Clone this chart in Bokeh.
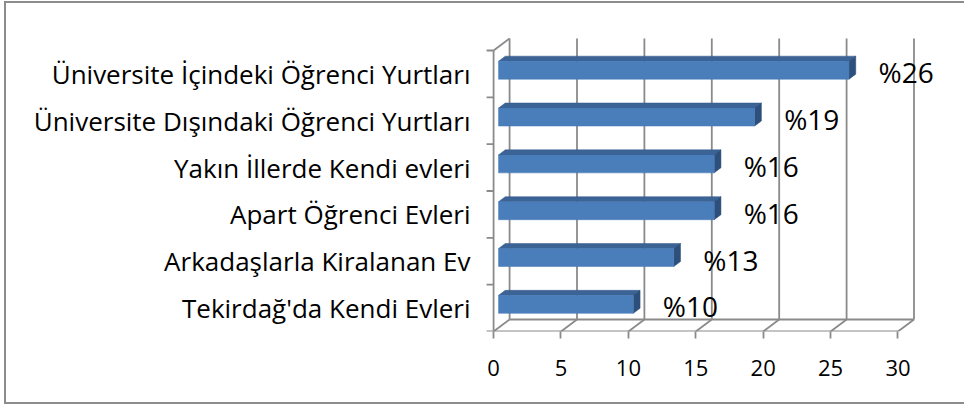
from bokeh.plotting import figure
from bokeh.models import FixedTicker, ColumnDataSource, Range1d
from bokeh.core.properties import value
from bokeh.embed import file_html
from bokeh.resources import INLINE

# ---- data (top to bottom as shown) ----
categories = [
    "Üniversite İçindeki Öğrenci Yurtları",
    "Üniversite Dışındaki Öğrenci Yurtları",
    "Yakın İllerde Kendi evleri",
    "Apart Öğrenci Evleri",
    "Arkadaşlarla Kiralanan Ev",
    "Tekirdağ'da Kendi Evleri",
]
values = [26, 19, 16, 16, 13, 10]
value_labels = ["%26", "%19", "%16", "%16", "%13", "%10"]
x_ticks = [0, 5, 10, 15, 20, 25, 30]

FONT = "Open Sans"
GRID = "#8a8a8a"

n = len(categories)
ypos = [n - 1 - k for k in range(n)]  # top category highest

# 3D geometry (data units)
PX_X = 13.48   # px per x unit
PX_Y = 46.83   # px per category slot
dx = 16 / PX_X
dy = 12 / PX_Y
f = 0.31       # depth of bar front face
g = 0.42       # bar depth
h = 0.192      # half bar height
xmax = x_ticks[-1]
y0, y1 = -0.5, n - 0.5

W, H = 960, 399
p = figure(width=W, height=H, output_backend="svg", toolbar_location=None,
           x_range=Range1d(-0.6, -0.6 + 460 / PX_X),
           y_range=Range1d(-0.5, -0.5 + 294 / PX_Y),
           min_border_left=479, min_border_right=21,
           min_border_top=34, min_border_bottom=71,
           styles={"margin-left": "6px", "margin-top": "3px",
                   "box-shadow": "-2px -2px 0 0 #8c8c8c, -2px 2px 0 0 #8c8c8c"})
p.outline_line_color = None
p.xgrid.visible = False
p.ygrid.visible = False
p.background_fill_color = "white"

# ---- walls / gridlines ----
p.segment(x0=[t + dx for t in x_ticks], y0=[y0 + dy] * len(x_ticks),
          x1=[t + dx for t in x_ticks], y1=[y1 + dy] * len(x_ticks),
          line_color=GRID, line_width=1.8)
p.segment(x0=[0, dx], y0=[y0, y0 + dy], x1=[xmax, xmax + dx], y1=[y0, y0 + dy],
          line_color=GRID, line_width=1.8)
p.segment(x0=x_ticks, y0=[y0] * len(x_ticks),
          x1=[t + dx for t in x_ticks], y1=[y0 + dy] * len(x_ticks),
          line_color=GRID, line_width=1.8)
p.segment(x0=[0, 0], y0=[y0, y1], x1=[0, dx], y1=[y1, y1 + dy],
          line_color=GRID, line_width=1.8)
bounds = [y0 + k for k in range(n + 1)]
p.segment(x0=[-7 / PX_X] * len(bounds), y0=bounds, x1=[0] * len(bounds), y1=bounds,
          line_color=GRID, line_width=1.8)

# ---- 3D bars ----
fx, fy = f * dx, f * dy
gx, gy = g * dx, g * dy
front_l, front_r, front_b, front_t = [], [], [], []
top_xs, top_ys, side_xs, side_ys = [], [], [], []
for v, c in zip(values, ypos):
    xa, xb = fx, v + fx
    ya, yb = c + fy - h, c + fy + h
    front_l.append(xa); front_r.append(xb); front_b.append(ya); front_t.append(yb)
    top_xs.append([xa, xb, xb + gx, xa + gx])
    top_ys.append([yb, yb, yb + gy, yb + gy])
    side_xs.append([xb, xb, xb + gx, xb + gx])
    side_ys.append([ya, yb, yb + gy, ya + gy])

p.patches(top_xs, top_ys, fill_color="#3b6395", line_color="#35598a", line_width=0.5)
p.patches(side_xs, side_ys, fill_color="#2d4f7c", line_color="#2a4a75", line_width=0.5)
p.quad(left=front_l, right=front_r, bottom=front_b, top=front_t,
       fill_color="#4a7ebb", line_color="#4277b4", line_width=0.5)

# ---- value labels ----
src = ColumnDataSource(dict(x=values, y=[c + fy for c in ypos], t=value_labels))
p.text(x="x", y="y", text="t", source=src, x_offset=62, y_offset=2,
       text_font=value(FONT), text_font_size="28px", text_color="black",
       text_align="center", text_baseline="middle")

# ---- axes ----
p.xaxis.ticker = FixedTicker(ticks=x_ticks)
p.xaxis.axis_line_color = None
p.xaxis.major_tick_line_color = GRID
p.xaxis.major_tick_line_width = 1.8
p.xaxis.major_tick_out = 7
p.xaxis.major_tick_in = 0
p.xaxis.minor_tick_line_color = None
p.xaxis.major_label_standoff = 21
p.xaxis.major_label_text_font = FONT
p.xaxis.major_label_text_font_size = "22px"
p.xaxis.major_label_text_color = "black"

p.yaxis.ticker = FixedTicker(ticks=ypos)
p.yaxis.major_label_overrides = {c: lab for c, lab in zip(ypos, categories)}
p.yaxis.axis_line_color = None
p.yaxis.major_tick_line_color = None
p.yaxis.minor_tick_line_color = None
p.yaxis.major_tick_out = 0
p.yaxis.major_tick_in = 0
p.yaxis.major_label_standoff = 15
p.yaxis.major_label_text_font = FONT
p.yaxis.major_label_text_font_size = "26px"
p.yaxis.major_label_text_color = "black"

open("out.html", "w").write(file_html(p, INLINE))
